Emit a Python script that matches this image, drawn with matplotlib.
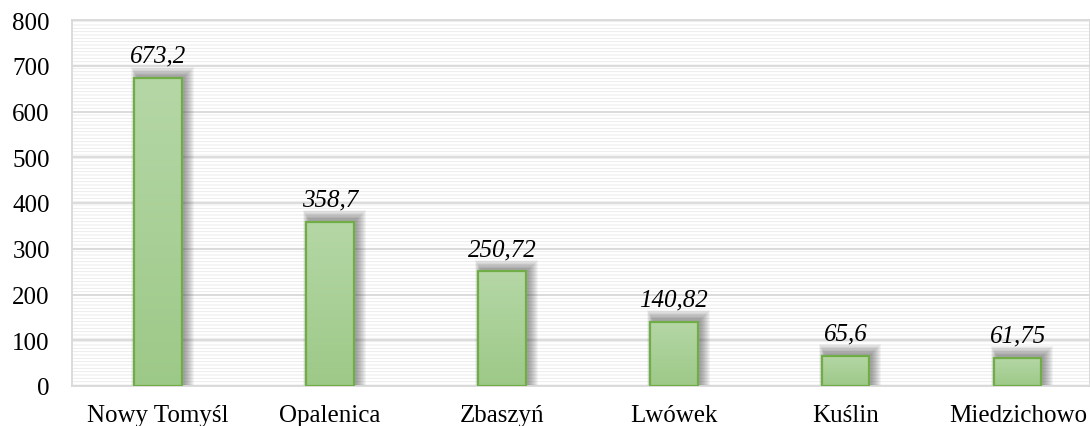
import matplotlib
matplotlib.use("Agg")
import matplotlib.pyplot as plt
import numpy as np
from matplotlib.patches import Rectangle
from matplotlib.colors import LinearSegmentedColormap

categories = ["Nowy Tomyśl", "Opalenica", "Zbaszyń", "Lwówek", "Kuślin", "Miedzichowo"]
values = [673.2, 358.7, 250.72, 140.82, 65.6, 61.75]
value_labels = ["673,2", "358,7", "250,72", "140,82", "65,6", "61,75"]
yticks = [0, 100, 200, 300, 400, 500, 600, 700, 800]

plt.rcParams['font.family'] = ['Liberation Serif', 'DejaVu Serif']
plt.rcParams['hatch.linewidth'] = 0.6

W, H = 1090, 427
fig = plt.figure(figsize=(W / 100, H / 100), dpi=100)
ax = fig.add_axes([72 / W, 40 / H, (1090 - 72) / W, 366 / H])

ax.set_xlim(-0.5, 5.42)
ax.set_ylim(0, 800)

# background fine hatch
bg = Rectangle((0, 0), 1, 1, transform=ax.transAxes, facecolor='white',
               edgecolor='#e9e9e9', hatch='-' * 5, linewidth=0, zorder=0)
ax.add_patch(bg)

for t in yticks:
    ax.axhline(t, color='#d9d9d9', lw=1.3, zorder=1)

for s in ax.spines.values():
    s.set_color('#d9d9d9')
    s.set_linewidth(1.3)

width = 0.275
px_x = 5.92 / (1090 - 72)   # data units per pixel, x
px_y = 800 / 366            # data units per pixel, y
cmap = LinearSegmentedColormap.from_list('g', ['#9dc988', '#b5d7a6'])
grad = np.linspace(0, 1, 256).reshape(-1, 1)
x = np.arange(len(categories))
for xi, v, lab in zip(x, values, value_labels):
    # soft shadow, offset to the upper right
    for k in range(1, 11):
        left = xi - width / 2 + 3 * px_x - 0.6 * k * px_x
        right = xi + width / 2 + 2 * px_x + k * px_x
        top = v + 1.5 * px_y + k * px_y
        ax.add_patch(Rectangle((left, 0), right - left, top, facecolor='#383838',
                               alpha=0.055, lw=0, zorder=2))
    im = ax.imshow(grad, cmap=cmap, aspect='auto', origin='lower',
                   extent=(xi - width / 2, xi + width / 2, 0, v), zorder=3)
    r = Rectangle((xi - width / 2, 0), width, v, facecolor='none',
                  edgecolor='#70ad47', lw=1.6, zorder=4)
    ax.add_patch(r)
    im.set_clip_path(r)
    ax.annotate(lab, (xi, v), xytext=(0, 8), textcoords='offset points',
                ha='center', va='bottom', fontsize=18, style='italic', color='black')

ax.set_xticks(x)
ax.set_xticklabels(categories, fontsize=18)
ax.set_yticks(yticks)
ax.set_yticklabels([str(t) for t in yticks], fontsize=18)
ax.tick_params(axis='both', length=0)
ax.tick_params(axis='x', pad=13)
ax.tick_params(axis='y', pad=16)

fig.savefig('out.png', dpi=100)
